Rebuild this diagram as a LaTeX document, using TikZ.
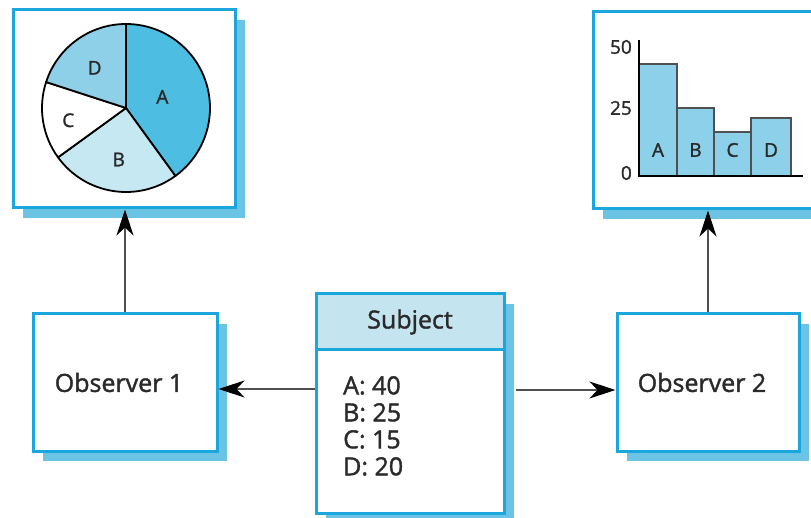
\documentclass[tikz,border=0pt]{standalone}
\usepackage{fontspec}
\setmainfont{Open Sans}[FakeBold=1.5]
\usetikzlibrary{arrows.meta,shadows}
\definecolor{boxblue}{HTML}{1BA7DE}
\definecolor{shadowblue}{HTML}{6CC4E4}
\definecolor{headblue}{HTML}{C4E5F0}
\definecolor{sliceA}{HTML}{4DBDE2}
\definecolor{sliceB}{HTML}{C6E8F2}
\definecolor{sliceD}{HTML}{8ED0E8}
\definecolor{barfill}{HTML}{8CD1E9}
\definecolor{textgray}{HTML}{2A2A2A}
\definecolor{linkgray}{HTML}{505050}
\begin{document}
\begin{tikzpicture}[x=1pt,y=-1pt,text=textgray,
  box/.style={draw=boxblue,line width=3pt,fill=white,inner sep=0pt,
    drop shadow={shadow xshift=10pt,shadow yshift=-10pt,fill=shadowblue,opacity=1},
    font=\fontsize{25}{27}\selectfont},
  slice/.style={draw=black,line width=1.8pt,line join=round},
  small/.style={font=\fontsize{19}{21}\selectfont,inner sep=0pt},
  bar/.style={draw=linkgray,line width=1.2pt,fill=barfill},
  link/.style={draw=linkgray,line width=1.6pt,
    -{Stealth[length=26pt,width=17pt,inset=8pt,color=black]}}]
\useasboundingbox (0,0) rectangle (811,518);
% frames
\node[box,minimum width=222pt,minimum height=198pt] (piebox) at (124,109) {};
\node[box,minimum width=222pt,minimum height=197pt] (barbox) at (704,110.5) {};
\node[box,minimum width=184pt,minimum height=137pt] (obs1) at (125,382.5) {Observer 1\kern12pt};
\node[box,minimum width=182pt,minimum height=137pt] (obs2) at (708,382.5) {Observer 2\kern12pt};
\node[box,minimum width=188pt,minimum height=219pt] (subject) at (410,403.5) {};
\node[draw=boxblue,line width=3pt,fill=headblue,inner sep=0pt,minimum width=188pt,
  minimum height=56pt,anchor=north,font=\fontsize{25}{27}\selectfont] (subjhead) at (subject.north) {Subject};
\node[anchor=north west,align=left,inner sep=0pt,font=\fontsize{25}{27}\selectfont] (subjdata) at (343,376)
  {A: 40\\B: 25\\C: 15\\D: 20};
% pie chart
\begin{scope}[shift={(126,108)},yscale=-1]
\filldraw[slice,fill=sliceA] (0,0) -- (90:84) arc[start angle=90,end angle=-54,radius=84] -- cycle;
\filldraw[slice,fill=sliceB] (0,0) -- (-54:84) arc[start angle=-54,end angle=-144,radius=84] -- cycle;
\filldraw[slice,fill=white] (0,0) -- (-144:84) arc[start angle=-144,end angle=-198,radius=84] -- cycle;
\filldraw[slice,fill=sliceD] (0,0) -- (162:84) arc[start angle=162,end angle=90,radius=84] -- cycle;
\node[small] (labA) at (17:38) {A};
\node[small] (labB) at (-98:52) {B};
\node[small] (labC) at (-168:59) {C};
\node[small] (labD) at (128:51) {D};
\end{scope}
% bar chart
\foreach \l/\r/\t/\n in {639/677/64/A, 677/714/108/B, 714/751/132/C, 751/791/118/D}
  {\filldraw[bar] (\l,176) rectangle (\r,\t);
   \node[small] at ({(\l+\r)/2},150) {\n};}
\draw[line width=1.8pt] (639,40) -- (639,176) -- (803,176);
\node[small,anchor=east] (tick50) at (632,47) {50};
\node[small,anchor=east] (tick25) at (632,108) {25};
\node[small,anchor=east] (tick0) at (632,173) {0};
% connectors
\draw[link] (obs1.north) -- (obs1.north |- piebox.south);
\draw[link] (obs2.north) -- (obs2.north |- barbox.south);
\draw[link] (subject.west |- 0,389) -- (obs1.east |- 0,389);
\draw[link,shorten <=10pt] (subject.east |- 0,390) -- (obs2.west |- 0,390);
\end{tikzpicture}
\end{document}
